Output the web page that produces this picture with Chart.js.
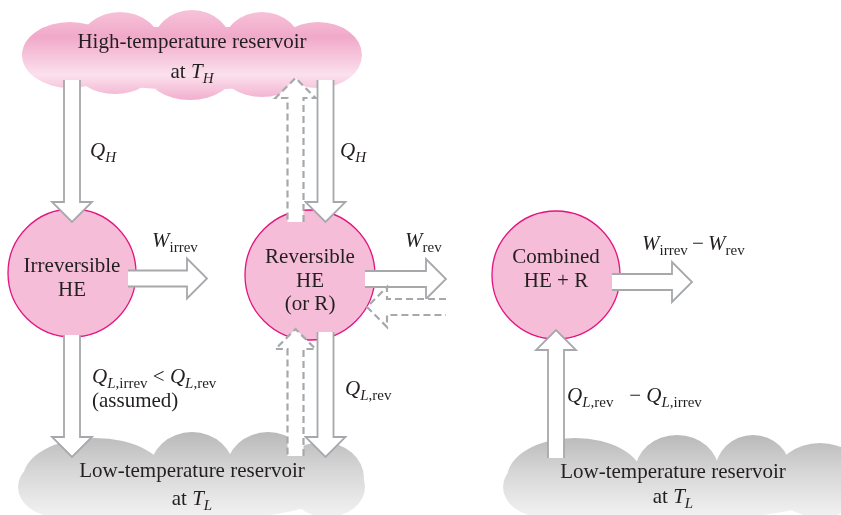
<!DOCTYPE html>
<html>
<head>
<meta charset="utf-8">
<script src="https://cdn.jsdelivr.net/npm/chart.js@4/dist/chart.umd.min.js"></script>
<style>
  body { margin: 0; background: #fff; }
  canvas { display: block; }
</style>
</head>
<body>
<canvas id="diagram" width="841" height="515"></canvas>
<script>
// heat engines: Irreversible HE, Reversible HE, Combined HE + R
var engineX = [72, 310, 556]
var engineY = [273, 275, 275]
var engineR = [64, 65, 64]

// energy flows, tail -> tip (dashed = reversed refrigerator flows)
var arrowTailX = [72, 325.5, 295.5, 128, 72, 365, 446, 325.5, 295.5, 612, 556]
var arrowTailY = [80, 80, 222, 278.5, 335, 279, 307, 332, 456, 282, 458]
var arrowTipX = [72, 325.5, 295.5, 207, 72, 446, 367, 325.5, 295.5, 692, 556]
var arrowTipY = [222, 222, 78, 278.5, 457, 279, 307, 457, 329, 282, 330]
var arrowDashed = [false, false, true, false, false, false, true, false, true, false, false]

// reservoirs, each one a union of ellipses [cx, cy, rx, ry]
var hotReservoir = [
  [192, 58, 140, 32], [70, 55, 48, 33], [120, 48, 42, 36], [192, 47, 40, 37],
  [262, 48, 40, 36], [318, 55, 44, 33], [115, 68, 40, 26], [190, 70, 45, 30],
  [262, 68, 42, 29]
]
var coldReservoirLeft = [
  [58, 487, 40, 30], [192, 490, 140, 30], [327, 487, 38, 30], [95, 478, 72, 40],
  [192, 470, 42, 38], [268, 470, 42, 38], [322, 478, 42, 36]
]
var coldReservoirRight = [
  [543, 487, 40, 30], [680, 490, 150, 30], [820, 487, 45, 30], [575, 478, 68, 40],
  [677, 472, 42, 37], [753, 472, 38, 37], [820, 478, 45, 35]
]

// text: n = roman, i = italic, s = subscript, si = italic subscript
var labelX = [192, 192, 90, 340, 152, 72, 72, 310, 310, 310, 405, 556, 556, 642,
  92, 92, 345, 567, 192, 192, 673, 673]
var labelY = [48, 78, 157, 157, 247, 272, 296, 263, 287, 310, 247, 263, 287, 250,
  383, 407, 395, 402, 477, 505, 478, 503]
var labelAlign = ['center', 'center', 'left', 'left', 'left', 'center', 'center',
  'center', 'center', 'center', 'left', 'center', 'center', 'left',
  'left', 'left', 'left', 'left', 'center', 'center', 'center', 'center']
var labelParts = [
  [['High-temperature reservoir', 'n']],
  [['at ', 'n'], ['T', 'i'], ['H', 'si']],
  [['Q', 'i'], ['H', 'si']],
  [['Q', 'i'], ['H', 'si']],
  [['W', 'i'], ['irrev', 's']],
  [['Irreversible', 'n']],
  [['HE', 'n']],
  [['Reversible', 'n']],
  [['HE', 'n']],
  [['(or R)', 'n']],
  [['W', 'i'], ['rev', 's']],
  [['Combined', 'n']],
  [['HE + R', 'n']],
  [['W', 'i'], ['irrev', 's'], ['\u2009\u2212\u2009', 'n'], ['W', 'i'], ['rev', 's']],
  [['Q', 'i'], ['L', 'si'], [',irrev', 's'], [' < ', 'n'], ['Q', 'i'], ['L', 'si'], [',rev', 's']],
  [['(assumed)', 'n']],
  [['Q', 'i'], ['L', 'si'], [',rev', 's']],
  [['Q', 'i'], ['L', 'si'], [',rev', 's'], ['   \u2212 ', 'n'], ['Q', 'i'], ['L', 'si'], [',irrev', 's']],
  [['Low-temperature reservoir', 'n']],
  [['at ', 'n'], ['T', 'i'], ['L', 'si']],
  [['Low-temperature reservoir', 'n']],
  [['at ', 'n'], ['T', 'i'], ['L', 'si']]
]

var SERIF = '"Liberation Serif", "Times New Roman", serif'

function fontFor(kind) {
  var size = kind[0] === 's' ? 15 : 21
  var italic = kind.indexOf('i') >= 0
  return (italic ? 'italic ' : '') + size + 'px ' + SERIF
}

function drawRich(ctx, x, y, parts, align) {
  var width = 0
  parts.forEach(function (p) {
    ctx.font = fontFor(p[1])
    width += ctx.measureText(p[0]).width
  })
  var cx = align === 'center' ? x - width / 2 : x
  parts.forEach(function (p) {
    ctx.font = fontFor(p[1])
    ctx.fillText(p[0], cx, y + (p[1][0] === 's' ? 5 : 0))
    cx += ctx.measureText(p[0]).width
  })
}

function drawCloud(chart, bumps, stops) {
  var ctx = chart.ctx
  var sx = chart.scales.x
  var sy = chart.scales.y
  var top = Infinity
  var bottom = -Infinity
  ctx.beginPath()
  bumps.forEach(function (b) {
    var cx = sx.getPixelForValue(b[0])
    var cy = sy.getPixelForValue(b[1])
    var rx = sx.getPixelForValue(b[0] + b[2]) - cx
    var ry = sy.getPixelForValue(b[1] + b[3]) - cy
    top = Math.min(top, cy - ry)
    bottom = Math.max(bottom, cy + ry)
    ctx.moveTo(cx + rx, cy)
    ctx.ellipse(cx, cy, rx, ry, 0, 0, Math.PI * 2)
  })
  var grad = ctx.createLinearGradient(0, top, 0, bottom)
  stops.forEach(function (s) {
    grad.addColorStop(s[0], s[1])
  })
  ctx.fillStyle = grad
  ctx.fill('nonzero')
}

function drawArrow(ctx, x1, y1, x2, y2, dashed) {
  var len = Math.hypot(x2 - x1, y2 - y1)
  var ux = (x2 - x1) / len
  var uy = (y2 - y1) / len
  var nx = -uy
  var ny = ux
  var shaft = 8
  var head = 20
  var headLen = 20
  var bx = x2 - ux * headLen
  var by = y2 - uy * headLen
  var pts = [
    [x1 + nx * shaft, y1 + ny * shaft],
    [bx + nx * shaft, by + ny * shaft],
    [bx + nx * head, by + ny * head],
    [x2, y2],
    [bx - nx * head, by - ny * head],
    [bx - nx * shaft, by - ny * shaft],
    [x1 - nx * shaft, y1 - ny * shaft]
  ]
  ctx.beginPath()
  pts.forEach(function (p, i) {
    if (i === 0) ctx.moveTo(p[0], p[1])
    else ctx.lineTo(p[0], p[1])
  })
  ctx.closePath()
  ctx.fillStyle = '#ffffff'
  ctx.fill()

  ctx.beginPath()
  pts.forEach(function (p, i) {
    if (i === 0) ctx.moveTo(p[0], p[1])
    else ctx.lineTo(p[0], p[1])
  })
  ctx.strokeStyle = '#a6a8ab'
  ctx.lineJoin = 'miter'
  if (dashed) {
    ctx.setLineDash([7, 4])
    ctx.lineWidth = 2.2
  } else {
    ctx.setLineDash([])
    ctx.lineWidth = 1.8
  }
  ctx.stroke()
  ctx.setLineDash([])
}

var diagramPlugin = {
  id: 'diagram',
  beforeDatasetsDraw: function (chart) {
    var ctx = chart.ctx
    ctx.save()
    drawCloud(chart, hotReservoir, [[0, '#f6c3da'], [0.3, '#f1a9c9'], [0.72, '#fbe1ed'], [1, '#f2afce']])
    var grey = [[0, '#b9b9ba'], [0.45, '#d7d7d8'], [1, '#f4f4f4']]
    drawCloud(chart, coldReservoirLeft, grey)
    drawCloud(chart, coldReservoirRight, grey)
    ctx.restore()
  },
  afterDatasetsDraw: function (chart) {
    var ctx = chart.ctx
    var sx = chart.scales.x
    var sy = chart.scales.y
    ctx.save()
    arrowTailX.forEach(function (v, i) {
      drawArrow(ctx,
        sx.getPixelForValue(arrowTailX[i]), sy.getPixelForValue(arrowTailY[i]),
        sx.getPixelForValue(arrowTipX[i]), sy.getPixelForValue(arrowTipY[i]),
        arrowDashed[i])
    })
    ctx.fillStyle = '#231f20'
    ctx.textBaseline = 'alphabetic'
    ctx.textAlign = 'left'
    labelParts.forEach(function (parts, i) {
      drawRich(ctx, sx.getPixelForValue(labelX[i]), sy.getPixelForValue(labelY[i]), parts, labelAlign[i])
    })
    ctx.restore()
  }
}

new Chart(document.getElementById('diagram'), {
  type: 'bubble',
  data: {
    datasets: [
      {
        data: engineX.map(function (x, i) {
          return { x: x, y: engineY[i], r: engineR[i] }
        }),
        backgroundColor: '#f5bdd7',
        borderColor: '#e3147f',
        borderWidth: 1.3,
        clip: false,
      },
    ],
  },
  options: {
    responsive: false,
    animation: false,
    events: [],
    layout: { padding: 0, autoPadding: false },
    plugins: {
      legend: { display: false },
      tooltip: { enabled: false },
    },
    scales: {
      x: { type: 'linear', min: 0, max: 841, display: false },
      y: { type: 'linear', min: 0, max: 515, reverse: true, display: false },
    },
  },
  plugins: [diagramPlugin],
})
</script>
</body>
</html>
